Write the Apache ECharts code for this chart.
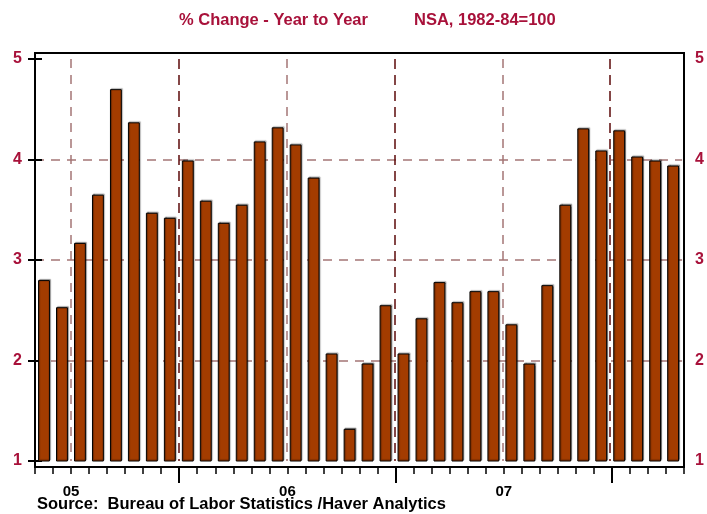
<!DOCTYPE html>
<html>
<head>
<meta charset="utf-8">
<script src="https://cdn.jsdelivr.net/npm/echarts@6/dist/echarts.min.js"></script>
<style>
  html, body { margin: 0; padding: 0; background: #fff; }
  #chart { width: 707px; height: 514px; }
</style>
</head>
<body>
<div id="chart"></div>
<script>
// months: May 2005 .. Apr 2008
var months = [
    '2005-05', '2005-06', '2005-07', '2005-08', '2005-09', '2005-10', '2005-11', '2005-12',
    '2006-01', '2006-02', '2006-03', '2006-04', '2006-05', '2006-06', '2006-07', '2006-08',
    '2006-09', '2006-10', '2006-11', '2006-12',
    '2007-01', '2007-02', '2007-03', '2007-04', '2007-05', '2007-06', '2007-07', '2007-08',
    '2007-09', '2007-10', '2007-11', '2007-12',
    '2008-01', '2008-02', '2008-03', '2008-04'
];
// % change year to year
var cpiValues = [
    2.80, 2.53, 3.17, 3.65, 4.70, 4.37, 3.47, 3.42,
    3.99, 3.59, 3.37, 3.55, 4.18, 4.32, 4.15, 3.82,
    2.07, 1.32, 1.97, 2.55,
    2.07, 2.42, 2.78, 2.58, 2.69, 2.69, 2.36, 1.97,
    2.75, 3.55, 4.31, 4.09,
    4.29, 4.03, 3.99, 3.94
];
var yearLabels = ['05', '06', '07'];
var yTicks = [1, 2, 3, 4, 5];

var red = '#a8113a';
var font = 'Liberation Sans, Arial, Helvetica, sans-serif';

// month positions on a 0..36 scale (left edge of each month)
var midYears = [], yearStarts = [];
months.forEach(function (m, i) {
    if (m.slice(5) === '07') midYears.push(i);
    if (m.slice(5) === '01') yearStarts.push(i);
});

var myChart = echarts.init(document.getElementById('chart'));

function edgeAxis(gridIndex, ticks, tickStyle, splitStyle) {
    return {
        type: 'value', gridIndex: gridIndex, position: 'bottom',
        min: 0, max: months.length,
        axisLine: {show: false},
        axisTick: {show: !!tickStyle, customValues: ticks, length: 16,
            lineStyle: tickStyle || {}},
        axisLabel: {show: false},
        splitLine: {show: !!splitStyle, customValues: ticks, lineStyle: splitStyle || {}}
    };
}

var yearAxis = edgeAxis(1, yearStarts, {color: '#000', width: 2}, null);
yearAxis.axisLabel = {
    show: true, customValues: midYears, margin: 17,
    color: '#000', fontSize: 15, fontWeight: 'bold', fontFamily: font,
    formatter: function (value) {
        return yearLabels[midYears.indexOf(value)];
    }
};

myChart.setOption({
    backgroundColor: '#fff',
    animation: false,
    title: [
        {text: '% Change - Year to Year', left: 179, top: 12, padding: 0,
            textStyle: {color: red, fontSize: 16.5, fontWeight: 'bold', fontFamily: font}},
        {text: 'NSA, 1982-84=100', left: 414, top: 12, padding: 0,
            textStyle: {color: red, fontSize: 16.5, fontWeight: 'bold', fontFamily: font}},
        {text: 'Source:  Bureau of Labor Statistics /Haver Analytics', left: 37, top: 496,
            padding: 0,
            textStyle: {color: '#000', fontSize: 16.5, fontWeight: 'bold', fontFamily: font}}
    ],
    grid: [
        // data area
        {left: 35, right: 23, top: 59, bottom: 53},
        // frame
        {left: 35, right: 23, top: 53, bottom: 47, show: true,
            borderColor: '#000', borderWidth: 2, backgroundColor: 'transparent'}
    ],
    xAxis: [
        // bars
        {type: 'category', gridIndex: 0, data: months, boundaryGap: true,
            axisLine: {show: false}, axisTick: {show: false}, axisLabel: {show: false},
            splitLine: {show: false}},
        // light mid-year lines
        edgeAxis(0, midYears, null, {color: '#a47676', width: 1.5, type: [9, 7]}),
        // dark year-start lines
        edgeAxis(0, yearStarts, null, {color: '#5c0a0a', width: 1.5, type: [10, 6]}),
        // monthly ticks on the frame
        {type: 'category', gridIndex: 1, data: months, boundaryGap: true, position: 'bottom',
            axisLine: {show: false},
            axisTick: {show: true, interval: 0, length: 7, lineStyle: {color: '#000', width: 1.5}},
            axisLabel: {show: false}, splitLine: {show: false}},
        // year ticks and labels
        yearAxis
    ],
    yAxis: [
        {type: 'value', gridIndex: 0, position: 'left', min: yTicks[0], max: yTicks[yTicks.length - 1], interval: 1,
            axisLine: {show: false},
            axisTick: {show: true, length: 7, lineStyle: {color: '#000', width: 2}},
            axisLabel: {color: red, fontSize: 16, fontWeight: 'bold', fontFamily: font, margin: 13},
            splitLine: {show: true, showMinLine: false, showMaxLine: false,
                lineStyle: {color: '#a47676', width: 1.5, type: [9, 7]}}},
        {type: 'value', gridIndex: 0, position: 'right', min: yTicks[0], max: yTicks[yTicks.length - 1], interval: 1,
            axisLine: {show: false},
            axisTick: {show: true, length: 7, lineStyle: {color: '#000', width: 2}},
            axisLabel: {color: red, fontSize: 16, fontWeight: 'bold', fontFamily: font, margin: 13},
            splitLine: {show: false}},
        {type: 'value', gridIndex: 1, show: false}
    ],
    series: [
        {
            name: 'CPI',
            type: 'bar',
            xAxisIndex: 0,
            yAxisIndex: 0,
            barWidth: '66%',
            data: cpiValues,
            itemStyle: {
                color: '#a33c00',
                borderColor: '#000',
                borderWidth: 1,
                shadowColor: 'rgba(0,0,0,0.35)',
                shadowBlur: 1,
                shadowOffsetX: 1,
                shadowOffsetY: -1
            }
        }
    ]
});
</script>
</body>
</html>
